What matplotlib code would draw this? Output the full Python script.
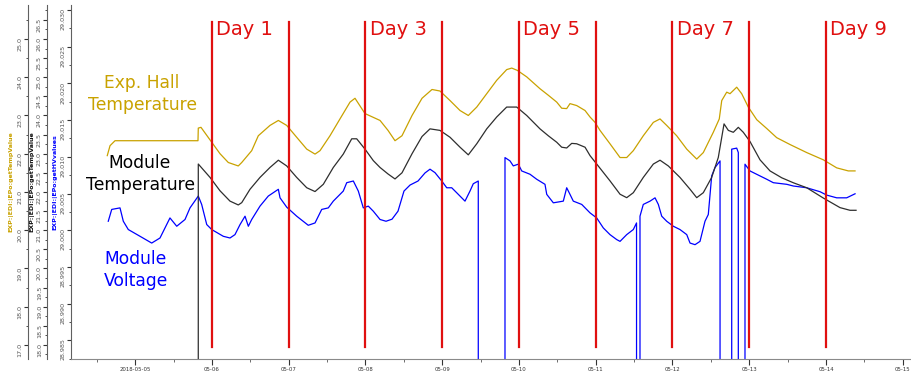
import numpy as np
import pandas as pd
import matplotlib
matplotlib.use("Agg")
import matplotlib.pyplot as plt
import matplotlib.dates as mdates
from matplotlib.ticker import MultipleLocator, AutoMinorLocator, FormatStrFormatter

start = pd.Timestamp("2018-05-05")

# time stamps in days since 2018-05-05 00:00
hall_t = [-0.364, -0.328, -0.263, 0.818, 0.822, 0.857, 0.997, 1.105, 1.213, 1.343,
          1.388, 1.518, 1.604, 1.756, 1.865, 1.974, 2.104, 2.235, 2.343, 2.408,
          2.538, 2.668, 2.799, 2.864, 2.994, 3.190, 3.294, 3.385, 3.476, 3.607,
          3.737, 3.867, 3.971, 4.102, 4.232, 4.340, 4.450, 4.580, 4.710, 4.840,
          4.906, 4.979, 5.101, 5.274, 5.382, 5.492, 5.557, 5.622, 5.665, 5.752,
          5.861, 5.926, 5.991, 6.056, 6.186, 6.317, 6.404, 6.490, 6.620, 6.751,
          6.838, 6.925, 7.055, 7.186, 7.316, 7.402, 7.532, 7.610, 7.642, 7.707,
          7.750, 7.837, 7.902, 7.988, 8.098, 8.228, 8.358, 8.532, 8.749, 8.966,
          9.140, 9.291, 9.379]
hall_temp = [21.95, 22.21, 22.34, 22.34, 22.67, 22.69, 22.30, 22.00, 21.77, 21.68,
             21.77, 22.08, 22.47, 22.74, 22.87, 22.74, 22.43, 22.12, 21.99, 22.08,
             22.47, 22.91, 23.35, 23.45, 23.05, 22.87, 22.61, 22.34, 22.47, 23.00,
             23.45, 23.68, 23.64, 23.39, 23.13, 23.00, 23.22, 23.57, 23.92, 24.20,
             24.24, 24.18, 24.01, 23.70, 23.53, 23.35, 23.19, 23.18, 23.31, 23.26,
             23.13, 22.96, 22.82, 22.61, 22.26, 21.90, 21.90, 22.08, 22.47, 22.82,
             22.91, 22.74, 22.47, 22.12, 21.86, 22.03, 22.56, 22.91, 23.39, 23.61,
             23.57, 23.74, 23.57, 23.22, 22.89, 22.66, 22.42, 22.24, 22.03, 21.84,
             21.63, 21.55, 21.55]

module_t = [0.821, 0.822, 0.975, 1.105, 1.235, 1.343, 1.388, 1.496, 1.626, 1.756,
            1.865, 1.974, 2.104, 2.235, 2.343, 2.451, 2.581, 2.711, 2.821, 2.886,
            2.994, 3.102, 3.190, 3.294, 3.385, 3.476, 3.607, 3.737, 3.841, 3.971,
            4.102, 4.232, 4.340, 4.450, 4.580, 4.710, 4.840, 4.971, 5.101, 5.274,
            5.382, 5.492, 5.557, 5.622, 5.687, 5.752, 5.861, 5.926, 6.013, 6.186,
            6.317, 6.404, 6.490, 6.620, 6.751, 6.838, 6.946, 7.098, 7.229, 7.316,
            7.402, 7.511, 7.597, 7.672, 7.728, 7.793, 7.858, 7.923, 8.010, 8.141,
            8.271, 8.424, 8.575, 8.749, 8.966, 9.183, 9.313, 9.392]
module_temp = [0.0, 22.73, 22.38, 22.03, 21.76, 21.66, 21.72, 22.07, 22.38, 22.64,
               22.83, 22.68, 22.38, 22.11, 22.01, 22.20, 22.64, 22.99, 23.39, 23.39,
               23.12, 22.82, 22.64, 22.47, 22.34, 22.50, 23.00, 23.45, 23.65, 23.61,
               23.43, 23.17, 22.97, 23.26, 23.65, 23.96, 24.22, 24.22, 24.00, 23.65,
               23.47, 23.30, 23.17, 23.15, 23.27, 23.26, 23.17, 22.95, 22.73, 22.29,
               21.94, 21.85, 21.98, 22.38, 22.73, 22.83, 22.68, 22.38, 22.07, 21.85,
               21.98, 22.38, 22.90, 23.78, 23.61, 23.56, 23.69, 23.56, 23.32, 22.84,
               22.55, 22.37, 22.24, 22.11, 21.84, 21.59, 21.52, 21.52]

# HV read-back, 0.0 where the supply reported nothing
hv_t = [-0.351, -0.306, -0.198, -0.155, -0.090, 0.063, 0.215, 0.323, 0.453, 0.541,
        0.649, 0.714, 0.822, 0.866, 0.932, 0.997, 1.148, 1.235, 1.300, 1.366,
        1.431, 1.474, 1.518, 1.626, 1.734, 1.865, 1.887, 1.974, 2.104, 2.255,
        2.343, 2.430, 2.516, 2.581, 2.711, 2.756, 2.842, 2.907, 2.972, 3.037,
        3.102, 3.190, 3.268, 3.346, 3.424, 3.502, 3.581, 3.685, 3.776, 3.841,
        3.906, 3.994, 4.059, 4.124, 4.189, 4.297, 4.362, 4.405, 4.470, 4.483,
        4.816, 4.818, 4.883, 4.926, 4.992, 5.036, 5.144, 5.231, 5.339, 5.362,
        5.448, 5.578, 5.622, 5.665, 5.708, 5.818, 5.926, 6.013, 6.099, 6.186,
        6.274, 6.317, 6.404, 6.490, 6.532, 6.538, 6.571, 6.577, 6.620, 6.708,
        6.773, 6.816, 6.860, 6.925, 7.011, 7.098, 7.186, 7.229, 7.294, 7.359,
        7.424, 7.467, 7.511, 7.554, 7.620, 7.637, 7.763, 7.772, 7.837, 7.858,
        7.861, 7.932, 7.945, 8.010, 8.141, 8.228, 8.314, 8.489, 8.575, 8.749,
        8.923, 9.010, 9.140, 9.270, 9.379]
hv_volt = [29.00123, 29.00284, 29.00305, 29.00123, 29.00010, 28.99918, 28.99826, 28.99895, 29.00168, 29.00055,
           29.00147, 29.00305, 29.00466, 29.00352, 29.00078, 29.00010, 28.99918, 28.99895, 28.99941, 29.00078,
           29.00192, 29.00055, 29.00147, 29.00329, 29.00466, 29.00558, 29.00442, 29.00315, 29.00192, 29.00068,
           29.00100, 29.00284, 29.00305, 29.00397, 29.00534, 29.00648, 29.00671, 29.00534, 29.00305, 29.00329,
           29.00260, 29.00147, 29.00123, 29.00151, 29.00260, 29.00534, 29.00616, 29.00671, 29.00781, 29.00832,
           29.00785, 29.00671, 29.00579, 29.00579, 29.00511, 29.00397, 29.00534, 29.00634, 29.00671, 0.0,
           0.0, 29.00990, 29.00945, 29.00877, 29.00900, 29.00808, 29.00763, 29.00695, 29.00626, 29.00489,
           29.00374, 29.00397, 29.00579, 29.00489, 29.00397, 29.00352, 29.00237, 29.00168, 29.00032, 28.99941,
           28.99873, 28.99849, 28.99941, 29.00010, 29.00100, 0.0, 0.0, 29.00192, 29.00352, 29.00397,
           29.00442, 29.00352, 29.00192, 29.00123, 29.00055, 29.00010, 28.99941, 28.99826, 28.99804, 28.99849,
           29.00123, 29.00215, 29.00740, 29.00853, 29.00945, 0.0, 0.0, 29.01105, 29.01119, 29.01059,
           0.0, 0.0, 29.00900, 29.00808, 29.00740, 29.00695, 29.00648, 29.00626, 29.00603, 29.00579,
           29.00525, 29.00479, 29.00442, 29.00442, 29.00497]

day_lines = ["2018-05-06", "2018-05-07", "2018-05-08", "2018-05-09", "2018-05-10",
             "2018-05-11", "2018-05-12", "2018-05-13", "2018-05-14"]
day_labels = ["Day 1", "", "Day 3", "", "Day 5", "", "Day 7", "", "Day 9"]

tick_dates = ["2018-05-05", "2018-05-06", "2018-05-07", "2018-05-08", "2018-05-09", "2018-05-10",
              "2018-05-11", "2018-05-12", "2018-05-13", "2018-05-14", "2018-05-15"]
tick_labels = ["2018-05-05", "05-06", "05-07", "05-08", "05-09", "05-10",
               "05-11", "05-12", "05-13", "05-14", "05-15"]

GOLD = "#c9a200"
DARK = "#2e2e2e"
BLUE = "#0000ff"
RED = "#e01010"
GREY = "#555555"


def to_time(days):
    return start + pd.to_timedelta(np.asarray(days), unit="D")


fig = plt.figure(figsize=(9.12, 3.72), dpi=100)
ax_hv = fig.add_axes([71 / 912, 13 / 372, 840 / 912, 354 / 372])
ax_mod = ax_hv.twinx()
ax_hall = ax_hv.twinx()

for side in ("top", "right"):
    ax_hv.spines[side].set_visible(False)
ax_hv.spines["left"].set_color("#606060")
ax_hv.spines["bottom"].set_color("#8a8a8a")

# extra temperature axes stacked to the left of the HV axis
for twin, off in ((ax_mod, -0.028), (ax_hall, -0.0512)):
    twin.yaxis.tick_left()
    twin.yaxis.set_label_position("left")
    twin.spines["left"].set_position(("axes", off))
    twin.spines["left"].set_visible(True)
    twin.spines["left"].set_color("#606060")
    for side in ("top", "right", "bottom"):
        twin.spines[side].set_visible(False)
    twin.patch.set_visible(False)

ax_hv.plot(to_time(hv_t), hv_volt, color=BLUE, lw=0.9)
ax_mod.plot(to_time(module_t), module_temp, color=DARK, lw=0.9)
ax_hall.plot(to_time(hall_t), hall_temp, color=GOLD, lw=0.9)

ax_hv.set_ylim(28.98247, 29.03068)
ax_mod.set_ylim(17.63, 26.89)
ax_hall.set_ylim(16.63, 25.89)
ax_hv.set_xlim(start - pd.Timedelta(days=0.8365), start + pd.Timedelta(days=10.108))

axis_setup = [
    (ax_hv, 0.005, "%.3f", BLUE, "EXP:|EDI:|EPo:getHVvalues", 2),
    (ax_mod, 0.5, "%.1f", "#111111", "EXP:|EDI:|EPo:getTempValue", 2),
    (ax_hall, 1.0, "%.1f", GOLD, "EXP:|EDI:|EPo:getTempValue", 3),
]
for a, step, fmt, col, label, lpad in axis_setup:
    a.yaxis.set_major_locator(MultipleLocator(step))
    a.yaxis.set_minor_locator(AutoMinorLocator(2))
    a.yaxis.set_major_formatter(FormatStrFormatter(fmt))
    a.tick_params(axis="y", which="major", length=3, width=0.8, labelsize=4.6,
                  labelrotation=90, pad=1, labelcolor=GREY, color="#333333")
    a.tick_params(axis="y", which="minor", length=1.5, width=0.6, color="#333333")
    a.set_ylabel(label, color=col, fontsize=4.5, fontweight="bold", labelpad=lpad)

# date axis
ax_hv.set_xticks(to_time([(pd.Timestamp(d) - start).days for d in tick_dates]))
ax_hv.set_xticklabels(tick_labels)
ax_hv.xaxis.set_minor_locator(mdates.HourLocator(byhour=[12]))
ax_hv.tick_params(axis="x", which="major", length=4, width=0.8, labelsize=3.9,
                  pad=1.5, labelcolor="#333333", color="#333333")
ax_hv.tick_params(axis="x", which="minor", length=2.5, width=0.6, color="#555555")

# day boundaries
trans = ax_hall.get_xaxis_transform()
for d, lab in zip(day_lines, day_labels):
    t = pd.Timestamp(d)
    ax_hall.axvline(t, ymin=0.034, ymax=0.952, color=RED, lw=1.6)
    if lab:
        ax_hall.text(t + pd.Timedelta(hours=1.3), 0.93, lab, transform=trans,
                     color=RED, fontsize=14, ha="left", va="center")

fig.text(142 / 912, 1 - 94 / 372, "Exp. Hall\nTemperature", color=GOLD,
         fontsize=12.3, ha="center", va="center", linespacing=1.32)
fig.text(140 / 912, 1 - 174 / 372, "Module\nTemperature", color="black",
         fontsize=12.3, ha="center", va="center", linespacing=1.32)
fig.text(136 / 912, 1 - 270 / 372, "Module\nVoltage", color=BLUE,
         fontsize=12.3, ha="center", va="center", linespacing=1.32)

fig.savefig("out.png", dpi=100)
